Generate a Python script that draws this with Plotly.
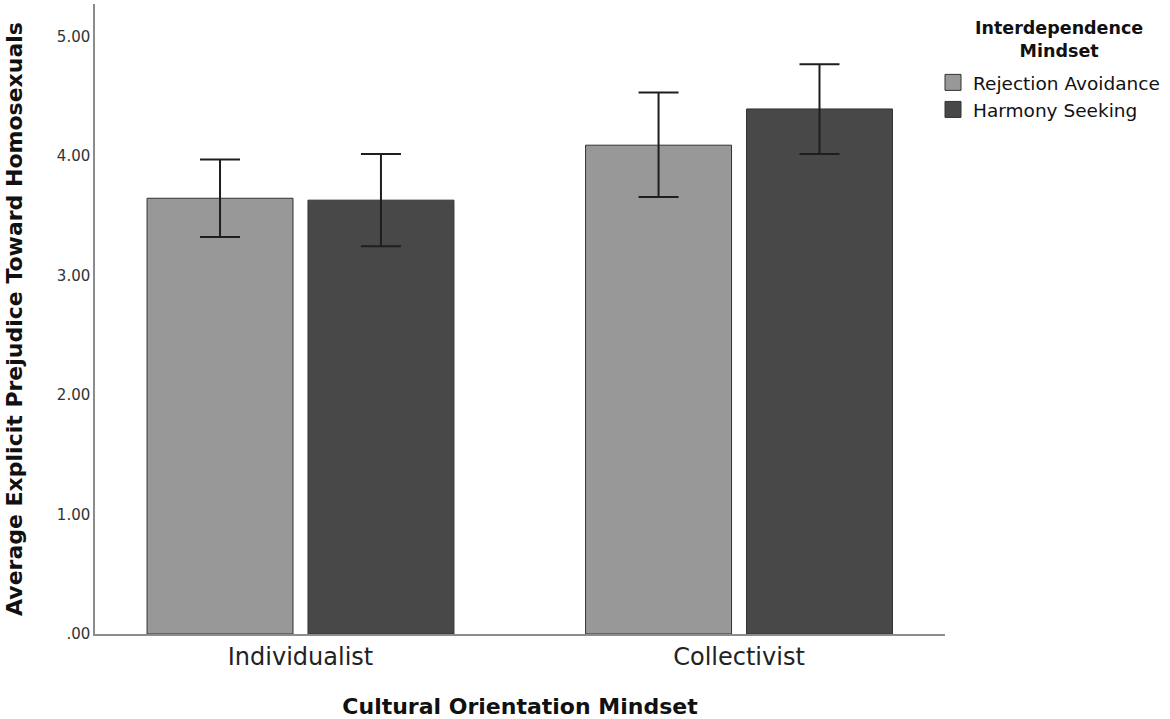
import plotly.graph_objects as go

categories = ["Individualist", "Collectivist"]
series_names = ["Rejection Avoidance", "Harmony Seeking"]
legend_title = "Interdependence<br>Mindset"
rejection_avoidance = [3.645, 4.089]
rejection_upper = [3.97, 4.53]
rejection_lower = [3.32, 3.656]
harmony_seeking = [3.629, 4.392]
harmony_upper = [4.016, 4.766]
harmony_lower = [3.244, 4.016]
ytick_vals = [0, 1, 2, 3, 4, 5]
ytick_text = [".00", "1.00", "2.00", "3.00", "4.00", "5.00"]

colors = ["#989898", "#484848"]
FONT = "DejaVu Sans"


def err(vals, up, lo):
    return dict(type="data", symmetric=False,
                array=[u - v for u, v in zip(up, vals)],
                arrayminus=[v - l for v, l in zip(vals, lo)],
                color="#1e1e1e", thickness=2, width=20)


fig = go.Figure()
series = [
    (series_names[0], rejection_avoidance, rejection_upper, rejection_lower, colors[0]),
    (series_names[1], harmony_seeking, harmony_upper, harmony_lower, colors[1]),
]
for name, vals, up, lo, c in series:
    fig.add_trace(go.Bar(x=categories, y=vals, name=name, showlegend=False,
                         marker=dict(color=c, line=dict(color="#333333", width=1)),
                         error_y=err(vals, up, lo)))
# legend entries (bigger square swatches)
for name, vals, up, lo, c in series:
    fig.add_trace(go.Scatter(x=[None], y=[None], mode="markers", name=name,
                             marker=dict(symbol="square", size=16, color=c,
                                         line=dict(color="#333333", width=1))))

fig.update_layout(
    width=1170, height=719,
    barmode="group", bargap=0.266, bargroupgap=0.093,
    plot_bgcolor="white", paper_bgcolor="white",
    margin=dict(l=95, r=225, t=4, b=85),
    font=dict(family=FONT, color="#222222"),
    showlegend=True,
    legend=dict(
        x=0.9859, xanchor="left", y=0.905, yanchor="top",
        font=dict(family=FONT, size=18.5, color="#111111"),
        tracegroupgap=0, bgcolor="rgba(0,0,0,0)",
    ),
    xaxis=dict(
        range=[-0.4686, 1.4697],
        showline=True, linecolor="#8c8c8c", linewidth=1.5,
        ticks="", showgrid=False, automargin=False,
        tickfont=dict(family=FONT, size=24, color="#222222"),
        title=dict(text="<b>Cultural Orientation Mindset</b>", standoff=33,
                   font=dict(family=FONT, size=22, color="#111111")),
    ),
    yaxis=dict(
        range=[0, 5.27],
        tickvals=ytick_vals, ticktext=ytick_text,
        showline=True, linecolor="#8c8c8c", linewidth=1.5,
        ticks="", showgrid=False, zeroline=False, automargin=False,
        tickfont=dict(family=FONT, size=15, color="#333333"),
        title=dict(text="<b>Average Explicit Prejudice Toward Homosexuals</b>", standoff=28,
                   font=dict(family=FONT, size=22, color="#111111")),
    ),
    annotations=[
        dict(text="<b>%s</b>" % legend_title, xref="paper", yref="paper",
             x=(1059 - 95) / 850, y=(634 - 39) / 630, xanchor="center", yanchor="middle",
             align="center", showarrow=False,
             font=dict(family=FONT, size=17.5, color="#111111")),
    ],
)

fig.write_html("out.html", config={"displayModeBar": False},
               post_script="document.body.style.margin='0px';")
